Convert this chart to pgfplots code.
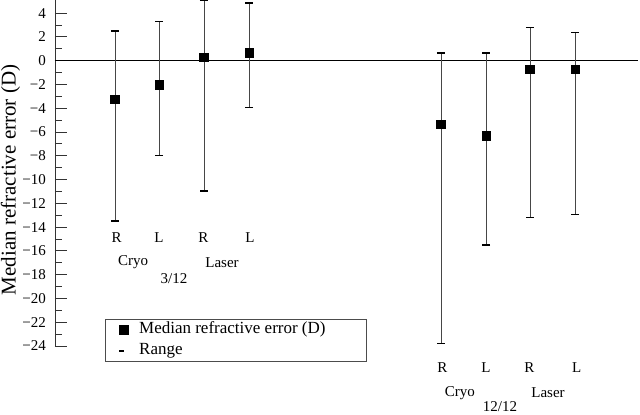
\documentclass[border=0pt]{standalone}
\usepackage{fontspec}
\setmainfont{Liberation Serif}
\usepackage{pgfplots}
\usepackage{pgfplotstable}
\pgfplotsset{compat=1.18}
\newcommand{\ff}{\fontsize{15}{17}\selectfont}
\newcommand{\fc}{\fontsize{15}{17}\selectfont}
\newcommand{\fl}{\fontsize{17}{19}\selectfont}
\newcommand{\fy}{\fontsize{21}{24}\selectfont}

% x = eye position, y = median, lo/hi = range
\pgfplotstableread{
x      y      lo      hi
1.342  -3.25  -13.48  2.5
2.327  -2.0   -7.97   3.3
3.333  0.28   -10.98  5.05
4.340  0.65   -3.92   4.84
8.635  -5.34  -23.8   0.64
9.642  -6.3   -15.5   0.64
10.626 -0.73  -13.2   2.77
11.633 -0.73  -12.95  2.37
}\refdata

\begin{document}
\begin{tikzpicture}
\begin{axis}[
  name=ax,
  width=585pt, height=346pt, scale only axis,
  xmin=0, xmax=13.087, ymin=-24, ymax=5.1,
  axis x line=none, axis y line*=left,
  axis line style={gray!40!black, line width=0.9pt},
  clip=false,
  ytick={-24,-22,...,4},
  yticklabels={−24,−22,−20,−18,−16,−14,−12,−10,−8,−6,−4,−2,0,2,4},
  minor y tick num=1,
  tick align=inside,
  major tick length=12pt, minor tick length=7pt,
  tick style={gray!40!black, line width=0.9pt},
  yticklabel style={font=\ff, inner sep=0pt, xshift=-9pt},
  ylabel={Median refractive error (D)},
  every axis y label/.style={at={(axis description cs:0,0.48)}, rotate=90,
    anchor=center, yshift=44.5pt, font=\fy, inner sep=0pt},
  legend cell align=left,
  legend style={at={(0.0855,0.078)}, anchor=north west, font=\fl,
    draw=gray!60!black, line width=0.9pt, inner xsep=13pt, inner ysep=1pt,
    row sep=2pt, column sep=0pt,
    nodes={inner sep=1.5pt, text height=12pt, text depth=4pt}},
]
\addplot[black, line width=0.9pt, forget plot] coordinates {(0,0) (13.04,0)};
\addplot[only marks, mark=square*, mark size=4.3pt, black, forget plot,
  error bars/.cd, y dir=both, y explicit,
  error bar style={gray!55!black, line width=0.9pt},
  error mark=|, error mark options={black, line width=1.5pt, mark size=4pt}]
  table[x=x, y=y, y error plus expr=\thisrow{hi}-\thisrow{y},
        y error minus expr=\thisrow{y}-\thisrow{lo}] {\refdata};

\addlegendimage{legend image code/.code={\path[draw=none, fill=none] (0,0) -- (18pt,0); \fill[black] (0,-4.3pt) rectangle (8.6pt,4.3pt);}}
\addlegendentry{Median refractive error (D)\hspace*{26pt}}
\addlegendimage{legend image code/.code={\path[draw=none, fill=none] (0,0) -- (18pt,0); \draw[black, line width=1.4pt] (-0.5pt,0) -- (4pt,0);}}
\addlegendentry{Range}

\node[font=\fc, inner sep=0pt] at (axis cs:1.380,-14.85) {R};
\node[font=\fc, inner sep=0pt] at (axis cs:2.327,-14.85) {L};
\node[font=\fc, inner sep=0pt] at (axis cs:3.318,-14.85) {R};
\node[font=\fc, inner sep=0pt] at (axis cs:4.362,-14.85) {L};
\node[font=\fc, inner sep=0pt] at (axis cs:1.745,-16.95) {Cryo};
\node[font=\fc, inner sep=0pt] at (axis cs:3.736,-16.95) {Laser};
\node[font=\fc, inner sep=0pt] at (axis cs:2.662,-18.35) {3/12};

\node[font=\fc, inner sep=0pt] at (axis cs:8.664,-25.85) {R};
\node[font=\fc, inner sep=0pt] at (axis cs:9.642,-25.85) {L};
\node[font=\fc, inner sep=0pt] at (axis cs:10.611,-25.85) {R};
\node[font=\fc, inner sep=0pt] at (axis cs:11.671,-25.85) {L};
\node[font=\fc, inner sep=0pt] at (axis cs:9.060,-27.95) {Cryo};
\node[font=\fc, inner sep=0pt] at (axis cs:11.029,-27.95) {Laser};
\node[font=\fc, inner sep=0pt] at (axis cs:9.955,-29.1) {12/12};
\end{axis}
\pgfresetboundingbox
\path[use as bounding box] ([xshift=-55pt]ax.north west) rectangle ([yshift=-68pt]ax.south east);
\end{tikzpicture}
\end{document}
